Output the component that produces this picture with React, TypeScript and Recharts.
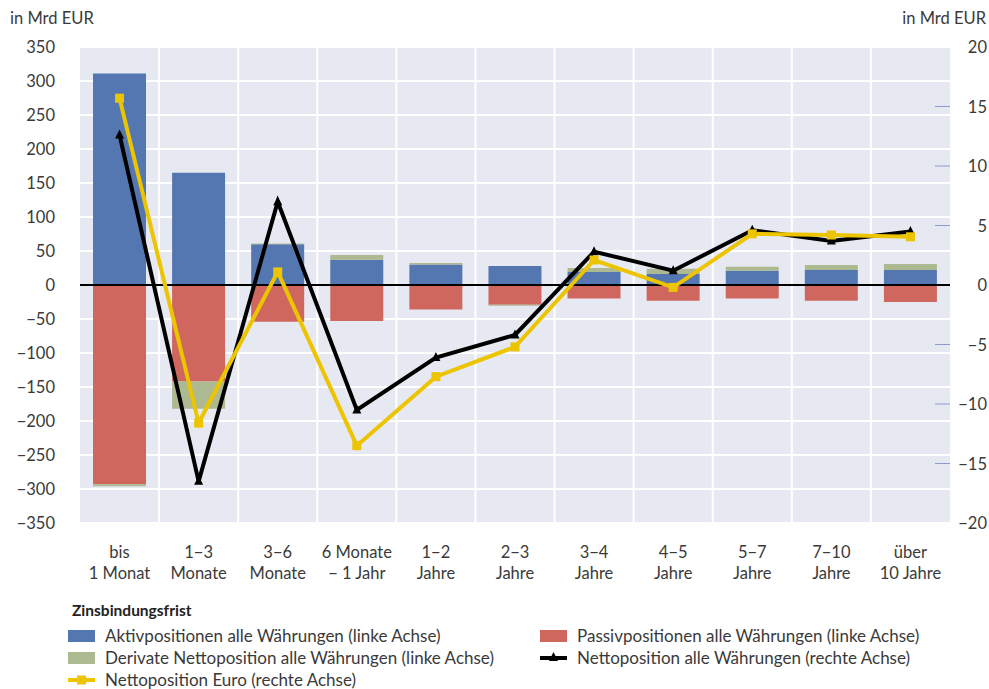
import {
	Bar,
	CartesianGrid,
	ComposedChart,
	Line,
	ReferenceLine,
	XAxis,
	YAxis,
} from "recharts";

const categories = [
	"bis\n1 Monat",
	"1−3\nMonate",
	"3−6\nMonate",
	"6 Monate\n− 1 Jahr",
	"1−2\nJahre",
	"2−3\nJahre",
	"3−4\nJahre",
	"4−5\nJahre",
	"5−7\nJahre",
	"7−10\nJahre",
	"über\n10 Jahre",
];

// linke Achse, Mrd EUR
const aktiv = [311, 165, 60, 37, 30, 28, 19, 16, 21, 22, 22];
const passiv = [-293, -142, -54, -53, -36, -29, -20, -23, -20, -23, -25];
const derivate = [-3, -40, 1, 7, 2.5, -1.5, 6, 8, 6, 7.5, 9];

// rechte Achse, Mrd EUR
const nettoAlle = [12.6, -16.5, 7.0, -10.5, -6.1, -4.2, 2.8, 1.2, 4.6, 3.7, 4.5];
const nettoEuro = [15.7, -11.6, 1.1, -13.5, -7.7, -5.2, 2.1, -0.2, 4.3, 4.2, 4.05];

const leftTicks = [-350, -300, -250, -200, -150, -100, -50, 0, 50, 100, 150, 200, 250, 300, 350];
const rightTicks = [-20, -15, -10, -5, 0, 5, 10, 15, 20];

const data = categories.map((name, i) => ({
	name,
	aktiv: aktiv[i],
	passiv: passiv[i],
	derivate: derivate[i],
	nettoAlle: nettoAlle[i],
	nettoEuro: nettoEuro[i],
}));

const FONT = "Lato, 'Open Sans', sans-serif";
const TEXT = "#3a3a3a";
const BLUE = "#5577b1";
const RED = "#cf675f";
const GREEN = "#adb990";
const YELLOW = "#ecc400";

const fmt = (v: number) => (v < 0 ? `−${Math.abs(v)}` : `${v}`);

function CategoryTick({ x, y, payload }: any) {
	const lines = String(payload.value).split("\n");
	return (
		<text x={x} y={y} textAnchor="middle" fill={TEXT} fontSize={16.5} fontFamily={FONT}>
			{lines.map((l, i) => (
				<tspan key={i} x={x} dy={i === 0 ? 27 : 21}>
					{l}
				</tspan>
			))}
		</text>
	);
}

function LeftTick({ x, y, payload }: any) {
	return (
		<text x={x} y={y} dy={6} textAnchor="end" fill={TEXT} fontSize={16.5} fontFamily={FONT}>
			{fmt(payload.value)}
		</text>
	);
}

function RightTick({ x, y, payload }: any) {
	const v = payload.value;
	const mark = v !== 0 && Math.abs(v) !== 20;
	return (
		<g>
			{mark && <line x1={x - 15} x2={x} y1={y} y2={y} stroke="#8a9ccf" strokeWidth={1} />}
			<text x={x + 37} y={y} dy={6} textAnchor="end" fill={TEXT} fontSize={16.5} fontFamily={FONT}>
				{fmt(v)}
			</text>
		</g>
	);
}

function Triangle({ cx, cy }: any) {
	if (cx == null || cy == null) return null;
	return <path d={`M${cx},${cy - 5.5} L${cx + 4.5},${cy + 3.5} L${cx - 4.5},${cy + 3.5} Z`} fill="#000" />;
}

function Square({ cx, cy }: any) {
	if (cx == null || cy == null) return null;
	return <rect x={cx - 4.5} y={cy - 4.5} width={9} height={9} fill={YELLOW} />;
}

const legendItems = [
	{ label: "Aktivpositionen alle Währungen (linke Achse)", kind: "box", color: BLUE, col: 0, row: 0 },
	{ label: "Passivpositionen alle Währungen (linke Achse)", kind: "box", color: RED, col: 1, row: 0 },
	{ label: "Derivate Nettoposition alle Währungen (linke Achse)", kind: "box", color: GREEN, col: 0, row: 1 },
	{ label: "Nettoposition alle Währungen (rechte Achse)", kind: "tri", color: "#000", col: 1, row: 1 },
	{ label: "Nettoposition Euro (rechte Achse)", kind: "sq", color: YELLOW, col: 0, row: 2 },
];

function LegendSwatch({ kind, color }: { kind: string; color: string }) {
	return (
		<svg width={27} height={14} style={{ display: "block" }}>
			{kind === "box" && <rect x={0} y={1} width={27} height={12} fill={color} />}
			{kind !== "box" && <line x1={0} x2={27} y1={7} y2={7} stroke={color} strokeWidth={4} />}
			{kind === "tri" && <path d="M13.5,1 L18,10 L9,10 Z" fill={color} />}
			{kind === "sq" && <rect x={9} y={2.5} width={9} height={9} fill={color} />}
		</svg>
	);
}

export default function App() {
	return (
		<div
			style={{
				position: "absolute",
				left: 0,
				top: 0,
				width: 989,
				height: 689,
				background: "#fff",
				fontFamily: FONT,
				color: TEXT,
			}}
		>
			<div style={{ position: "absolute", left: 10, top: 8, fontSize: 16.5 }}>in Mrd EUR</div>
			<div style={{ position: "absolute", right: 3, top: 8, fontSize: 16.5 }}>in Mrd EUR</div>
			<ComposedChart
				width={989}
				height={590}
				data={data}
				stackOffset="sign"
				margin={{ top: 47, right: 0, bottom: 0, left: 0 }}
			>
				<CartesianGrid
					yAxisId="left"
					fill="#e7e9f2"
					stroke="#ffffff"
					strokeWidth={2}
					verticalCoordinatesGenerator={({ offset }: any) =>
						categories.slice(1).map((_, i) => offset.left + ((i + 1) * offset.width) / categories.length)
					}
				/>
				<XAxis
					dataKey="name"
					interval={0}
					height={67}
					axisLine={false}
					tickLine={false}
					tick={<CategoryTick />}
				/>
				<YAxis
					yAxisId="left"
					domain={[-350, 350]}
					ticks={leftTicks}
					width={80}
					axisLine={false}
					tickLine={false}
					tickSize={0}
					tickMargin={25}
					tick={<LeftTick />}
				/>
				<YAxis
					yAxisId="right"
					orientation="right"
					domain={[-20, 20]}
					ticks={rightTicks}
					width={39}
					axisLine={false}
					tickLine={false}
					tickSize={0}
					tickMargin={0}
					tick={<RightTick />}
				/>
				<Bar yAxisId="left" dataKey="aktiv" stackId="a" fill={BLUE} barSize={53} isAnimationActive={false} />
				<Bar yAxisId="left" dataKey="passiv" stackId="a" fill={RED} barSize={53} isAnimationActive={false} />
				<Bar yAxisId="left" dataKey="derivate" stackId="a" fill={GREEN} barSize={53} isAnimationActive={false} />
				<ReferenceLine yAxisId="left" y={0} stroke="#000" strokeWidth={2} />
				<Line
					yAxisId="right"
					dataKey="nettoAlle"
					stroke="#000"
					strokeWidth={4}
					dot={<Triangle />}
					activeDot={false}
					isAnimationActive={false}
				/>
				<Line
					yAxisId="right"
					dataKey="nettoEuro"
					stroke={YELLOW}
					strokeWidth={4}
					dot={<Square />}
					activeDot={false}
					isAnimationActive={false}
				/>
			</ComposedChart>
			<div style={{ position: "absolute", left: 72, top: 601, fontSize: 15.5, fontWeight: 700, color: "#222" }}>
				Zinsbindungsfrist
			</div>
			{legendItems.map((it) => (
				<div
					key={it.label}
					style={{
						position: "absolute",
						left: it.col === 0 ? 68 : 540,
						top: 626 + it.row * 22,
						display: "flex",
						alignItems: "center",
						gap: 10,
						fontSize: 17,
						lineHeight: "20px",
						whiteSpace: "nowrap",
					}}
				>
					<LegendSwatch kind={it.kind} color={it.color} />
					<span>{it.label}</span>
				</div>
			))}
		</div>
	);
}
